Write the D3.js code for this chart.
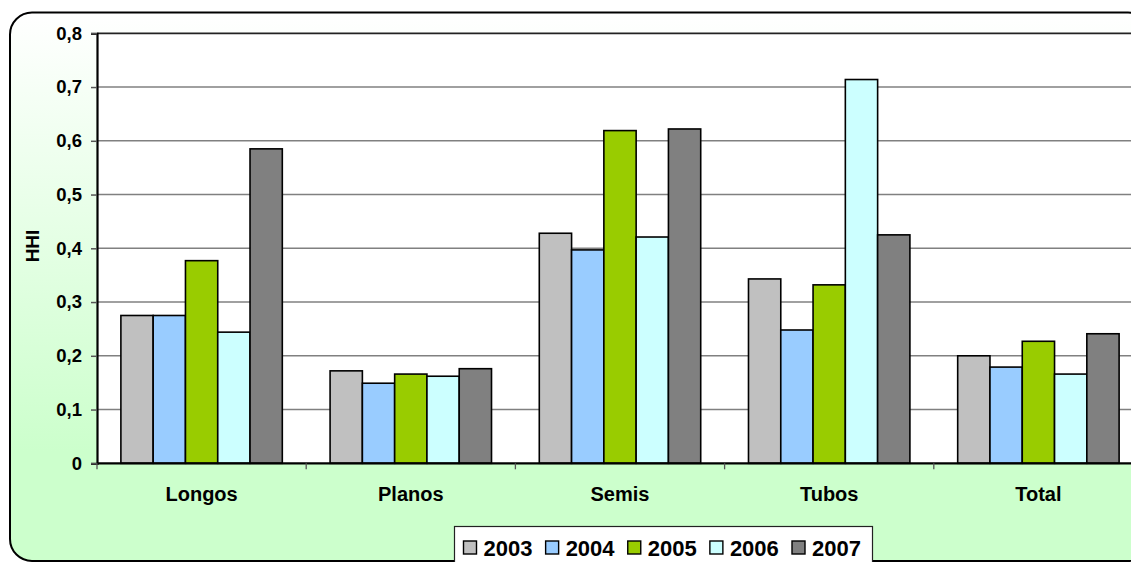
<!DOCTYPE html>
<html>
<head>
<meta charset="utf-8">
<script src="https://cdn.jsdelivr.net/npm/d3@7"></script>
<style>
  html, body { margin: 0; padding: 0; background: #ffffff; }
  svg { display: block; font-family: "Liberation Sans", Arial, sans-serif; }
</style>
</head>
<body>
<svg id="chart" width="1131" height="562"></svg>
<script>
// Herfindahl-Hirschman index by steel product group, 2003-2007
const categories = ["Longos", "Planos", "Semis", "Tubos", "Total"];
const years = ["2003", "2004", "2005", "2006", "2007"];
const v2003 = [0.275, 0.172, 0.428, 0.343, 0.200];
const v2004 = [0.275, 0.149, 0.397, 0.248, 0.179];
const v2005 = [0.377, 0.166, 0.619, 0.332, 0.227];
const v2006 = [0.244, 0.162, 0.421, 0.714, 0.166];
const v2007 = [0.585, 0.176, 0.622, 0.425, 0.241];
const yTicks = [0, 0.1, 0.2, 0.3, 0.4, 0.5, 0.6, 0.7, 0.8];
const yTickLabels = ["0", "0,1", "0,2", "0,3", "0,4", "0,5", "0,6", "0,7", "0,8"];
const yTitle = "HHI";
const colors = ["#C0C0C0", "#99CCFF", "#99CC00", "#CCFFFF", "#808080"];

const seriesValues = [v2003, v2004, v2005, v2006, v2007];
const rows = categories.map((c, i) => ({
  category: c,
  values: years.map((y, j) => ({ year: y, value: seriesValues[j][i], color: colors[j] }))
}));

const svg = d3.select("#chart");
const plot = { left: 97, right: 1143, top: 33.3, bottom: 463.3 };

// Chart area background: white fading into pale green
const defs = svg.append("defs");
const grad = defs.append("linearGradient")
  .attr("id", "bgGrad").attr("x1", 0).attr("y1", 0).attr("x2", 0).attr("y2", 1);
grad.append("stop").attr("offset", "0%").attr("stop-color", "#FFFFFF");
grad.append("stop").attr("offset", "80%").attr("stop-color", "#CCFFCC");
grad.append("stop").attr("offset", "100%").attr("stop-color", "#CCFFCC");

svg.append("rect")
  .attr("x", 10).attr("y", 12.5).attr("width", 1140).attr("height", 548.5)
  .attr("rx", 22).attr("ry", 22)
  .attr("fill", "url(#bgGrad)")
  .attr("stroke", "#000").attr("stroke-width", 2);

// Scales
const x0 = d3.scaleBand().domain(categories).range([plot.left, plot.right]).paddingInner(0).paddingOuter(0);
const x1 = d3.scaleBand().domain(years).range([0, x0.bandwidth()]).paddingInner(0).paddingOuter(0.74);
const y = d3.scaleLinear().domain([0, 0.8]).range([plot.bottom, plot.top]);

// Plot area
svg.append("rect")
  .attr("x", plot.left).attr("y", plot.top)
  .attr("width", plot.right - plot.left).attr("height", plot.bottom - plot.top)
  .attr("fill", "#FFFFFF");

// Horizontal gridlines
svg.append("g").selectAll("line")
  .data(yTicks.filter(t => t > 0 && t < 0.8))
  .join("line")
  .attr("x1", plot.left).attr("x2", plot.right)
  .attr("y1", d => y(d)).attr("y2", d => y(d))
  .attr("stroke", "#808080").attr("stroke-width", 1.5);

// Top border of the plot area
svg.append("line")
  .attr("x1", plot.left).attr("x2", plot.right)
  .attr("y1", y(0.8)).attr("y2", y(0.8))
  .attr("stroke", "#222").attr("stroke-width", 1.8);

// Bars
const groups = svg.append("g").selectAll("g")
  .data(rows).join("g")
  .attr("transform", d => `translate(${x0(d.category)},0)`);
groups.selectAll("rect")
  .data(d => d.values).join("rect")
  .attr("x", d => x1(d.year))
  .attr("y", d => y(d.value))
  .attr("width", x1.bandwidth())
  .attr("height", d => y(0) - y(d.value))
  .attr("fill", d => d.color)
  .attr("stroke", "#000").attr("stroke-width", 1.6);

// Y axis
const yAxis = d3.axisLeft(y)
  .tickValues(yTicks)
  .tickFormat((d, i) => yTickLabels[i])
  .tickSize(6).tickPadding(9);
const gy = svg.append("g").attr("transform", `translate(${plot.left},0)`).call(yAxis);
gy.select(".domain").attr("stroke", "#000").attr("stroke-width", 2.2);
gy.selectAll(".tick line").attr("stroke", "#555").attr("stroke-width", 1.5);
gy.selectAll(".tick text")
  .attr("font-size", 18.5).attr("font-weight", "bold").attr("fill", "#000")
  .attr("font-family", "Liberation Sans, Arial, sans-serif");

// X axis with ticks on category boundaries
const gx = svg.append("g").attr("transform", `translate(0,${plot.bottom})`);
gx.append("line")
  .attr("x1", plot.left).attr("x2", plot.right)
  .attr("stroke", "#000").attr("stroke-width", 2.2);
gx.selectAll("line.bound")
  .data(categories).join("line").attr("class", "bound")
  .attr("x1", d => x0(d)).attr("x2", d => x0(d))
  .attr("y1", 0).attr("y2", 6)
  .attr("stroke", "#555").attr("stroke-width", 1.3);
gx.selectAll("text")
  .data(categories).join("text")
  .attr("x", d => x0(d) + x0.bandwidth() / 2)
  .attr("y", 38)
  .attr("text-anchor", "middle")
  .attr("font-size", 20).attr("font-weight", "bold")
  .text(d => d);

// Y axis title
svg.append("text")
  .attr("transform", `translate(39,246) rotate(-90)`)
  .attr("text-anchor", "middle")
  .attr("font-size", 19).attr("font-weight", "bold")
  .text(yTitle);

// Legend
const legend = svg.append("g");
legend.append("rect")
  .attr("x", 454.5).attr("y", 526.5).attr("width", 418).attr("height", 50)
  .attr("fill", "#FFFFFF").attr("stroke", "#222").attr("stroke-width", 1.2);
const legendX = d3.scalePoint().domain(years).range([463.5, 792]);
const items = legend.selectAll("g.item")
  .data(years.map((yr, j) => ({ year: yr, color: colors[j] })))
  .join("g").attr("class", "item")
  .attr("transform", d => `translate(${legendX(d.year)},541)`);
items.append("rect")
  .attr("width", 13).attr("height", 13)
  .attr("fill", d => d.color).attr("stroke", "#000").attr("stroke-width", 1.4);
items.append("text")
  .attr("x", 20).attr("y", 14.5)
  .attr("font-size", 22).attr("font-weight", "bold")
  .text(d => d.year);
</script>
</body>
</html>
